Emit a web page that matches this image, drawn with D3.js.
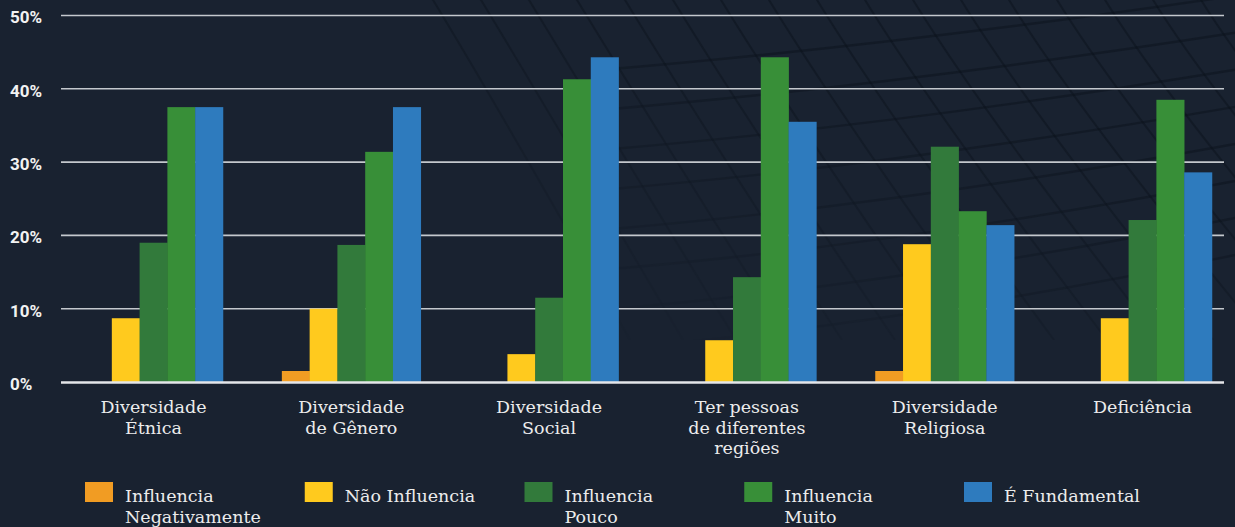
<!DOCTYPE html>
<html>
<head>
<meta charset="utf-8">
<script src="https://cdn.jsdelivr.net/npm/d3@7"></script>
<style>
  html, body { margin: 0; padding: 0; background: #192230; }
  svg { display: block; }
  .yLabel { font-family: Roboto, "DejaVu Sans", sans-serif; font-weight: bold; font-size: 17px; fill: #f2f2f2; }
  .catLabel, .legText { font-family: "DejaVu Serif", serif; font-size: 17.5px; fill: #ececec; }
</style>
</head>
<body>
<div id="chart"></div>
<script>
// categories (one entry per line of the label)
var categories = ["Étnica", "Gênero", "Social", "Regiões", "Religiosa", "Deficiência"];
var categoryLabels = [
  ["Diversidade", "Étnica"],
  ["Diversidade", "de Gênero"],
  ["Diversidade", "Social"],
  ["Ter pessoas", "de diferentes", "regiões"],
  ["Diversidade", "Religiosa"],
  ["Deficiência"]
];

// series names, legend labels
var seriesKeys = ["negativamente", "naoInfluencia", "pouco", "muito", "fundamental"];
var seriesLabels = [
  ["Influencia", "Negativamente"],
  ["Não Influencia"],
  ["Influencia", "Pouco"],
  ["Influencia", "Muito"],
  ["É Fundamental"]
];
var seriesColors = ["#f19c23", "#ffca1e", "#327a3b", "#388f38", "#2e7bbe"];

// values in %
var negativamente = [0, 1.5, 0, 0, 1.5, 0];
var naoInfluencia = [8.7, 10.0, 3.8, 5.7, 18.8, 8.7];
var pouco = [19.0, 18.7, 11.5, 14.3, 32.1, 22.1];
var muito = [37.5, 31.4, 41.3, 44.3, 23.3, 38.5];
var fundamental = [37.5, 37.5, 44.3, 35.5, 21.4, 28.6];

// y ticks
var yTicks = [0, 10, 20, 30, 40, 50];

var seriesValues = [negativamente, naoInfluencia, pouco, muito, fundamental];

var width = 1235;
var height = 527;

// plot edges
var gridLeft = 61;
var gridRight = 1224;
var lineGap = 20.5;

var svg = d3
  .select("#chart")
  .append("svg")
  .attr("width", width)
  .attr("height", height);

svg.append("rect")
  .attr("width", width)
  .attr("height", height)
  .attr("fill", "#192230");

// faint background mesh, top right
var fade = svg.append("defs").append("linearGradient")
  .attr("id", "fade")
  .attr("x1", "0.2").attr("y1", "0").attr("x2", "-0.5").attr("y2", "1");
fade.append("stop").attr("offset", "0").attr("stop-color", "#fff").attr("stop-opacity", 1);
fade.append("stop").attr("offset", "0.7").attr("stop-color", "#fff").attr("stop-opacity", 0);
var mask = svg.select("defs").append("mask").attr("id", "meshMask");
mask.append("rect")
  .attr("x", 420).attr("y", 0).attr("width", 815).attr("height", 340)
  .attr("fill", "url(#fade)");

var mesh = svg.append("g").attr("mask", "url(#meshMask)")
  .attr("stroke", "#0c121a").attr("fill", "none").attr("stroke-opacity", 0.45);
// steep lines
for (var i = 0; i < 18; i++) {
  var sx = 430 + i * 48;
  mesh.append("path")
    .attr("stroke-width", 2)
    .attr("d", "M" + sx + ",-5 Q" + (sx + 70) + ",110 " + (sx + 200 + i * 5) + ",340");
}
// flat lines
for (var j = 0; j < 8; j++) {
  var sy = 35 + j * 40;
  mesh.append("path")
    .attr("stroke-width", 2.4)
    .attr("d", "M600," + (sy + 35) + " Q900," + (sy + 10) + " 1240," + (sy - 40 - j * 3));
}

// scales
var y = d3.scaleLinear().domain([0, 50]).range([382, 15.5]);

var x0 = d3.scaleBand()
  .domain(categories)
  .range([54.6, 1241.4])
  .paddingInner(0)
  .paddingOuter(0);

var x1 = d3.scaleBand()
  .domain(seriesKeys)
  .range([0, x0.bandwidth()])
  .paddingInner(0)
  .paddingOuter(1.06);

// gridlines
svg.append("g")
  .selectAll("line")
  .data(yTicks.filter(function(d) { return d > 0; }))
  .enter()
  .append("line")
  .attr("x1", gridLeft)
  .attr("x2", gridRight)
  .attr("y1", function(d) { return y(d); })
  .attr("y2", function(d) { return y(d); })
  .attr("stroke", "#c4c8cd")
  .attr("stroke-width", 1.6);

// y labels
svg.append("g")
  .selectAll("text")
  .data(yTicks)
  .enter()
  .append("text")
  .attr("class", "yLabel")
  .attr("x", 10)
  .attr("y", function(d) { return y(d) + 3.5; })
  .attr("dominant-baseline", "middle")
  .text(function(d) { return d + "%"; });

// bars
var groups = svg.append("g")
  .selectAll("g")
  .data(categories)
  .enter()
  .append("g")
  .attr("transform", function(d) { return "translate(" + x0(d) + ",0)"; });

groups.selectAll("rect")
  .data(function(d, ci) {
    return seriesKeys.map(function(k, si) {
      return { key: k, value: seriesValues[si][ci], color: seriesColors[si] };
    });
  })
  .enter()
  .append("rect")
  .attr("x", function(d) { return x1(d.key); })
  .attr("width", x1.bandwidth() + 0.3)
  .attr("y", function(d) { return y(d.value); })
  .attr("height", function(d) { return y(0) - y(d.value); })
  .attr("fill", function(d) { return d.color; });

// baseline
svg.append("line")
  .attr("x1", gridLeft)
  .attr("x2", gridRight)
  .attr("y1", y(0) + 0.5)
  .attr("y2", y(0) + 0.5)
  .attr("stroke", "#e4e6e9")
  .attr("stroke-width", 2.6);

// category labels
var cat = svg.append("g")
  .selectAll("text")
  .data(categories)
  .enter()
  .append("text")
  .attr("class", "catLabel")
  .attr("text-anchor", "middle")
  .attr("x", function(d) { return x0(d) + x0.bandwidth() / 2; })
  .attr("y", 413);

cat.selectAll("tspan")
  .data(function(d, i) { return categoryLabels[i]; })
  .enter()
  .append("tspan")
  .attr("x", function() { return d3.select(this.parentNode).attr("x"); })
  .attr("dy", function(d, i) { return i === 0 ? 0 : lineGap; })
  .text(function(d) { return d; });

// legend
var legStep = 219.75;
var leg = svg.append("g")
  .selectAll("g")
  .data(seriesKeys)
  .enter()
  .append("g")
  .attr("transform", function(d, i) { return "translate(" + (85 + i * legStep) + ",0)"; });

leg.append("rect")
  .attr("x", 0)
  .attr("y", 482)
  .attr("width", 28)
  .attr("height", 20)
  .attr("fill", function(d, i) { return seriesColors[i]; });

leg.append("text")
  .attr("class", "legText")
  .attr("x", 40)
  .attr("y", 502)
  .selectAll("tspan")
  .data(function(d, i) { return seriesLabels[i]; })
  .enter()
  .append("tspan")
  .attr("x", 40)
  .attr("dy", function(d, i) { return i === 0 ? 0 : lineGap; })
  .text(function(d) { return d; });
</script>
</body>
</html>
